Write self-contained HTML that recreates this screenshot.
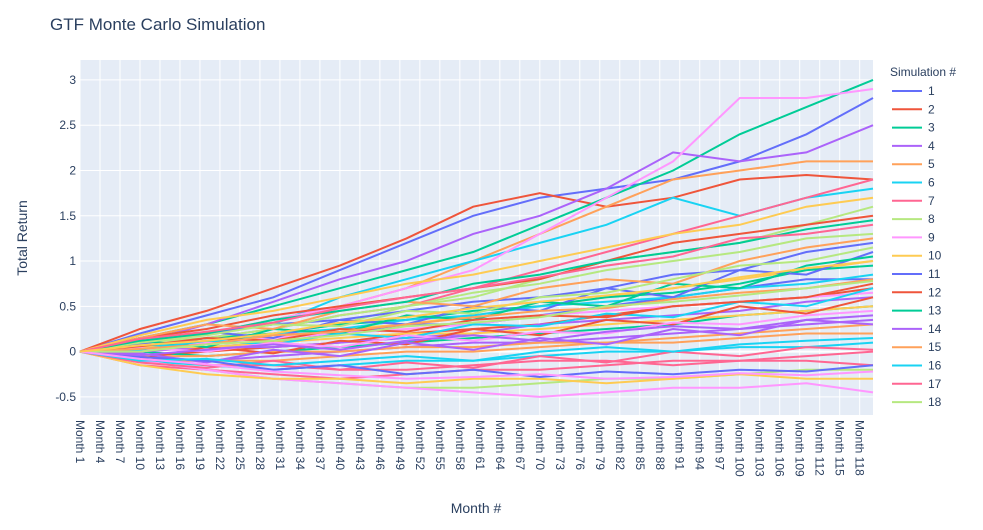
<!DOCTYPE html>
<html><head><meta charset="utf-8"><style>
body{margin:0;background:#fff;font-family:"Liberation Sans",sans-serif}
svg text{font-family:"Liberation Sans",sans-serif}
</style></head><body>
<svg id="chart" width="983" height="525" xmlns="http://www.w3.org/2000/svg">
<text x="50" y="30" font-size="17" fill="#2a3f5f">GTF Monte Carlo Simulation</text>
<rect x="80" y="60" width="793" height="355" fill="#e5ecf6"/>
<g id="grid"></g><g id="lines"></g><g id="xticks"></g><g id="yticks"></g>
<text x="476" y="513" font-size="14" fill="#2a3f5f" text-anchor="middle">Month #</text>
<text transform="translate(27,238) rotate(-90)" font-size="14" fill="#2a3f5f" text-anchor="middle">Total Return</text>
<text x="890" y="76" font-size="12" fill="#2a3f5f">Simulation #</text>
<defs><clipPath id="lc"><rect x="880" y="80" width="100" height="335"/></clipPath></defs>
<g id="legend" clip-path="url(#lc)"></g>
</svg>
<script>
const months=[1,10,20,30,40,50,60,70,80,90,100,110,120];
const s1=[0,0.2,0.4,0.6,0.9,1.2,1.5,1.7,1.8,1.9,2.1,2.4,2.8];
const s2=[0,0.25,0.45,0.7,0.95,1.25,1.6,1.75,1.6,1.7,1.9,1.95,1.9];
const s3=[0,0.15,0.3,0.5,0.7,0.9,1.1,1.4,1.7,2.0,2.4,2.7,3.0];
const s4=[0,0.1,0.3,0.55,0.8,1.0,1.3,1.5,1.8,2.2,2.1,2.2,2.5];
const s5=[0,0.1,0.2,0.35,0.5,0.7,1.0,1.3,1.6,1.9,2.0,2.1,2.1];
const s6=[0,0.1,0.2,0.3,0.6,0.8,1.0,1.2,1.4,1.7,1.5,1.7,1.8];
const s7=[0,0.05,0.15,0.25,0.4,0.5,0.7,0.9,1.1,1.3,1.5,1.7,1.9];
const s8=[0,0.1,0.1,0.2,0.3,0.5,0.6,0.8,1.0,1.1,1.2,1.4,1.6];
const s9=[0,0.05,0.2,0.35,0.5,0.7,0.9,1.3,1.7,2.1,2.8,2.8,2.9];
const s10=[0,0.05,0.1,0.15,0.25,0.3,0.4,0.5,0.6,0.7,0.8,0.9,1.0];
const s11=[0,0,0.05,0.1,0.2,0.3,0.3,0.4,0.5,0.6,0.7,0.8,0.8];
const s12=[0,-0.05,0,0.05,0.1,0.2,0.25,0.3,0.4,0.5,0.55,0.6,0.7];
const s13=[0,0,-0.05,0,0.05,0.1,0.15,0.2,0.25,0.3,0.4,0.45,0.5];
const s14=[0,-0.05,-0.1,-0.05,0,0.05,0.1,0.1,0.15,0.2,0.25,0.3,0.35];
const s15=[0,-0.1,-0.1,-0.1,-0.05,0,0,0.05,0.1,0.1,0.15,0.2,0.2];
const s16=[0,-0.1,-0.15,-0.2,-0.15,-0.1,-0.1,-0.05,0,0,0.05,0.05,0.1];
const s17=[0,-0.15,-0.2,-0.25,-0.3,-0.25,-0.2,-0.2,-0.15,-0.1,-0.1,-0.05,0];
const s18=[0,-0.1,-0.2,-0.3,-0.35,-0.4,-0.4,-0.35,-0.3,-0.3,-0.25,-0.2,-0.2];
const s19=[0,-0.1,-0.2,-0.3,-0.35,-0.4,-0.45,-0.5,-0.45,-0.4,-0.4,-0.35,-0.45];
const s20=[0,-0.15,-0.25,-0.3,-0.3,-0.35,-0.3,-0.3,-0.35,-0.3,-0.25,-0.3,-0.3];
const s21=[0,0.1,0.2,0.3,0.35,0.45,0.55,0.6,0.7,0.85,0.9,1.1,1.2];
const s22=[0,0.15,0.25,0.4,0.5,0.6,0.7,0.8,1.0,1.2,1.3,1.4,1.5];
const s23=[0,0.05,0.15,0.2,0.3,0.35,0.45,0.5,0.6,0.65,0.75,0.9,0.95];
const s24=[0,0,0.05,0.05,0.1,0.15,0.2,0.3,0.35,0.4,0.45,0.55,0.6];
const s25=[0,-0.05,-0.05,0,0,0.05,0.05,0.1,0.1,0.15,0.2,0.25,0.3];
const s26=[0,0.05,0.1,0.2,0.25,0.35,0.4,0.5,0.55,0.6,0.7,0.75,0.85];
const s27=[0,-0.05,-0.15,-0.15,-0.2,-0.2,-0.15,-0.1,-0.1,-0.15,-0.1,-0.1,-0.15];
const s28=[0,0.1,0.15,0.25,0.4,0.5,0.65,0.75,0.9,1.0,1.1,1.25,1.3];
const s29=[0,0,0.1,0.15,0.2,0.25,0.3,0.4,0.45,0.5,0.55,0.6,0.65];
const s30=[0,0.05,0.05,0.1,0.15,0.2,0.2,0.25,0.3,0.35,0.4,0.45,0.5];
const s31=[0,0.08,0.22,0.15,0.35,0.3,0.5,0.45,0.7,0.6,0.9,0.85,1.1];
const s32=[0,-0.08,0.05,-0.02,0.12,0.08,0.25,0.18,0.35,0.3,0.5,0.42,0.6];
const s33=[0,0.12,0.05,0.25,0.2,0.4,0.35,0.55,0.5,0.75,0.7,0.95,1.05];
const s34=[0,-0.02,-0.12,0.02,-0.05,0.1,0.02,0.15,0.08,0.25,0.18,0.35,0.3];
const s35=[0,0.15,0.3,0.25,0.45,0.55,0.5,0.7,0.8,0.75,1.0,1.15,1.25];
const s36=[0,0.02,0.12,0.08,0.2,0.15,0.3,0.28,0.42,0.38,0.55,0.5,0.7];
const s37=[0,-0.12,-0.18,-0.1,-0.2,-0.12,-0.18,-0.05,-0.12,0.0,-0.05,0.05,0.02];
const s38=[0,0.1,0.18,0.3,0.28,0.45,0.42,0.6,0.65,0.8,0.95,1.0,1.15];
const s39=[0,0.04,0.0,0.1,0.05,0.18,0.12,0.22,0.2,0.32,0.3,0.4,0.45];
const s40=[0,0.18,0.35,0.45,0.6,0.75,0.85,1.0,1.15,1.3,1.4,1.6,1.7];
const s41=[0,-0.06,-0.1,-0.2,-0.15,-0.25,-0.2,-0.28,-0.22,-0.25,-0.2,-0.22,-0.15];
const s42=[0,0.06,0.15,0.12,0.25,0.22,0.35,0.4,0.38,0.5,0.55,0.6,0.75];
const s43=[0,0.12,0.2,0.35,0.45,0.55,0.75,0.85,1.0,1.1,1.2,1.35,1.45];
const s44=[0,-0.04,0.02,0.08,0.02,0.12,0.18,0.12,0.22,0.28,0.25,0.35,0.4];
const s45=[0,0.03,0.08,0.18,0.22,0.3,0.38,0.45,0.48,0.58,0.65,0.7,0.8];
const s46=[0,-0.1,-0.08,-0.15,-0.1,-0.05,-0.1,0.0,0.05,0.0,0.08,0.12,0.15];
const s47=[0,0.14,0.22,0.32,0.48,0.6,0.7,0.82,0.95,1.05,1.25,1.3,1.4];
const s48=[0,0.0,0.08,0.12,0.18,0.28,0.32,0.38,0.5,0.55,0.62,0.7,0.78];
const s49=[0,-0.08,-0.14,-0.22,-0.26,-0.3,-0.28,-0.25,-0.3,-0.28,-0.24,-0.26,-0.22];
const s50=[0,0.07,0.12,0.2,0.32,0.38,0.48,0.55,0.62,0.7,0.82,0.92,1.0];
const series=[s1,s2,s3,s4,s5,s6,s7,s8,s9,s10,s11,s12,s13,s14,s15,s16,s17,s18,s19,s20,s21,s22,s23,s24,s25,s26,s27,s28,s29,s30,s31,s32,s33,s34,s35,s36,s37,s38,s39,s40,s41,s42,s43,s44,s45,s46,s47,s48,s49,s50];
const yTicks=[-0.5,0,0.5,1,1.5,2,2.5,3];
const colors=["#636efa","#EF553B","#00cc96","#ab63fa","#FFA15A","#19d3f3","#FF6692","#B6E880","#FF97FF","#FECB52"];
const NS="http://www.w3.org/2000/svg";
const X0=80,X1=873,Y0=415,Y1=60,ymin=-0.7,ymax=3.22;
const xs=m=>X0+(m-1)/119*(X1-X0);
const ys=v=>Y0-(v-ymin)/(ymax-ymin)*(Y0-Y1);
function mk(t,a,p){const e=document.createElementNS(NS,t);for(const k in a)e.setAttribute(k,a[k]);p.appendChild(e);return e;}
const grid=document.getElementById('grid'),yt=document.getElementById('yticks'),xt=document.getElementById('xticks');
yTicks.forEach(v=>{
 const l=mk('line',{x1:X0,x2:X1,y1:ys(v),y2:ys(v),stroke:'#fff','stroke-width':v===0?2:1},grid);
 
 
 const t=mk('text',{x:X0-4,y:ys(v)+4,'font-size':12,fill:'#2a3f5f','text-anchor':'end'},yt);
 t.textContent=String(v);
 
 
});
for(let m=1;m<=120;m+=3){
 const x=xs(m);
 const l=mk('line',{x1:x,x2:x,y1:Y1,y2:Y0,stroke:'#fff','stroke-width':1},grid);
 
 
 const t=mk('text',{transform:`translate(${x-4},420) rotate(90)`,'font-size':12,fill:'#2a3f5f'},xt);
 t.textContent='Month '+m;
 
 
}
const lines=document.getElementById('lines');
series.forEach((s,i)=>{
 const d=s.map((v,j)=>(j?'L':'M')+xs(months[j]).toFixed(1)+','+ys(v).toFixed(1)).join('');
 const p=mk('path',{d:d,fill:'none',stroke:colors[i%10],'stroke-width':2},lines);
 
 
});
const lg=document.getElementById('legend');
for(let i=0;i<18;i++){
 const y=91+i*18.3;
 const g=mk('g',{},lg);
 
 
 mk('line',{x1:892,x2:922,y1:y,y2:y,stroke:colors[i%10],'stroke-width':2},g);
 const t=mk('text',{x:928,y:y+4,'font-size':12,fill:'#2a3f5f'},g);
 t.textContent=String(i+1);
}
</script>
</body></html>
